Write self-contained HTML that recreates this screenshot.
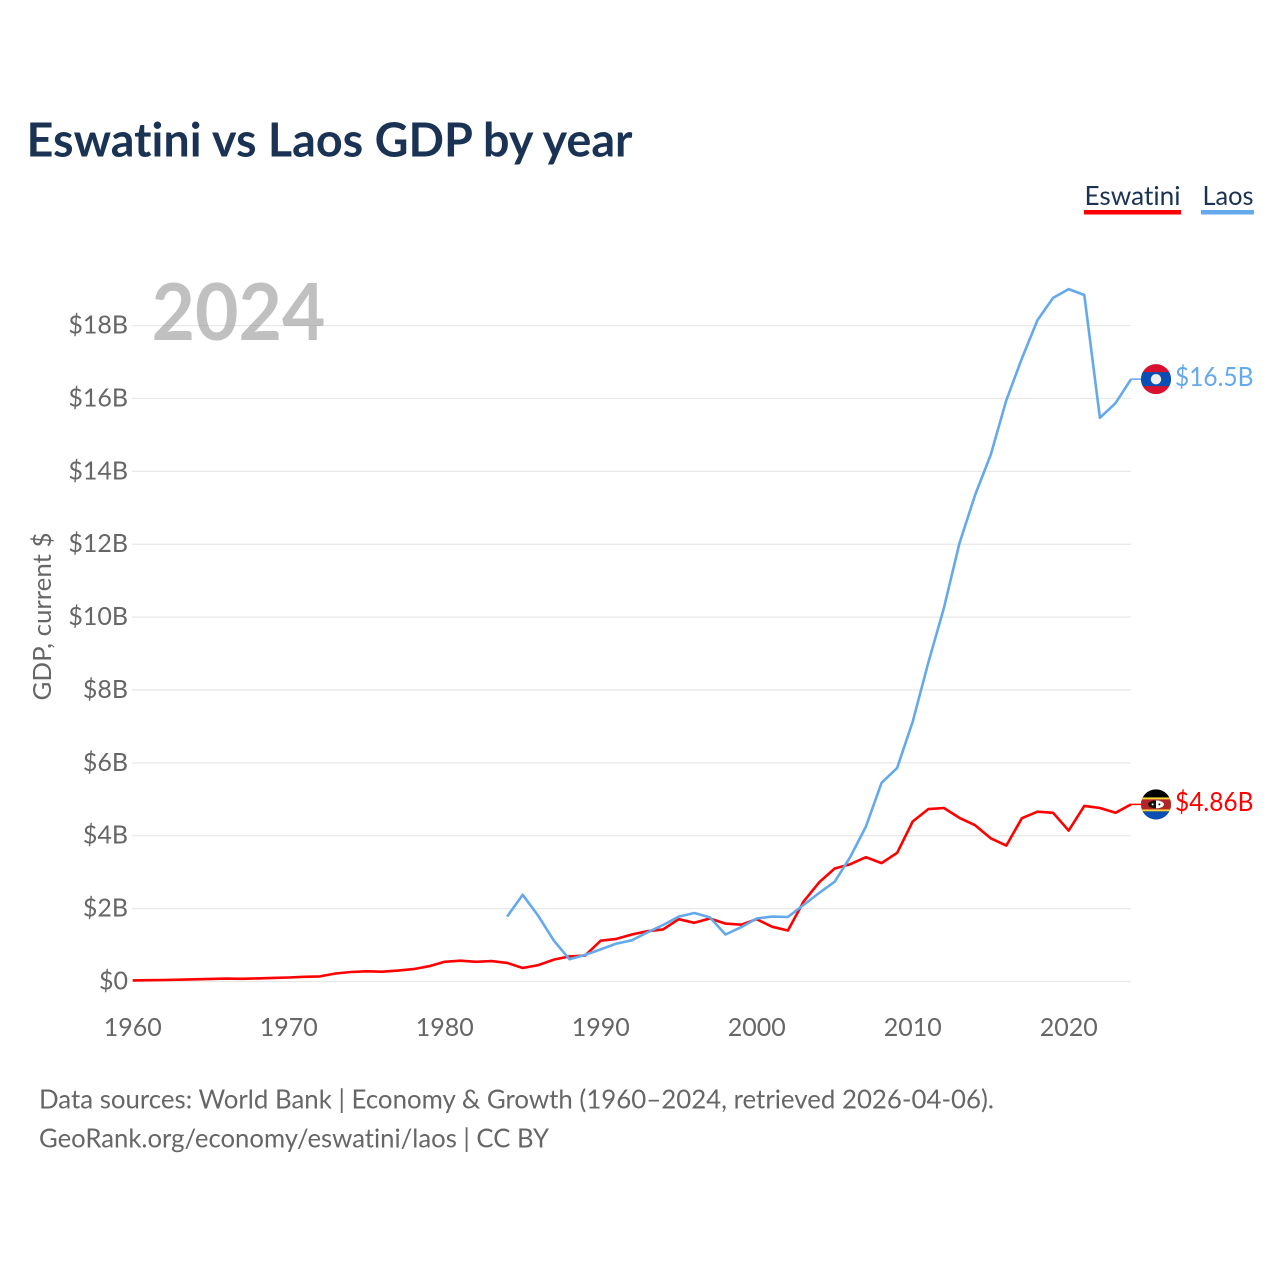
<!DOCTYPE html>
<html lang="en">
<head>
<meta charset="utf-8">
<title>Eswatini vs Laos GDP by year</title>
<style>
  html, body { margin: 0; padding: 0; background: #ffffff; }
  svg { display: block; font-family: "Lato", "Carlito", "Liberation Sans", sans-serif; font-variant-ligatures: none; font-feature-settings: "liga" 0, "clig" 0; }
</style>
</head>
<body>
<svg id="chart" xmlns="http://www.w3.org/2000/svg" width="1280" height="1280" viewBox="0 0 1280 1280">
  <defs>
    <clipPath id="flag-clip"><circle cx="0" cy="0" r="15"></circle></clipPath>
  </defs>
  <rect x="0" y="0" width="1280" height="1280" fill="#ffffff"></rect>
  <text x="26.5" y="156.5" font-size="47" font-weight="700" fill="#1a3354" textLength="606" lengthAdjust="spacingAndGlyphs">Eswatini vs Laos GDP by year</text>

  <g>
    <g>
      <text x="1084.5" y="205" font-size="26.5" fill="#1a3354" textLength="96" lengthAdjust="spacingAndGlyphs">Eswatini</text>
      <rect x="1084" y="210" width="97" height="4.5" fill="#ff0000"></rect>
    </g>
    <g>
      <text x="1202.5" y="205" font-size="26.5" fill="#1a3354" textLength="51" lengthAdjust="spacingAndGlyphs">Laos</text>
      <rect x="1201" y="210" width="53" height="4.5" fill="#63a9ec"></rect>
    </g>
  </g>

  <g id="grid"></g>
  <text x="151.5" y="340" font-size="79" font-weight="700" fill="#969696" fill-opacity="0.6" textLength="174" lengthAdjust="spacingAndGlyphs">2024</text>
  <g id="y-axis"></g>
  <g id="x-axis"></g>
  <text transform="translate(51 616.5) rotate(-90)" text-anchor="middle" font-size="25" fill="#666666" textLength="168" lengthAdjust="spacingAndGlyphs">GDP, current $</text>
  <g id="series"></g>
  <g id="end-markers"></g>

  <g>
    <text x="39" y="1108.7" font-size="26" fill="#666666" textLength="955" lengthAdjust="spacingAndGlyphs">Data sources: World Bank | Economy &amp; Growth (1960–2024, retrieved 2026-04-06).</text>
    <text x="39" y="1147.7" font-size="26" fill="#666666" textLength="510" lengthAdjust="spacingAndGlyphs">GeoRank.org/economy/eswatini/laos | CC BY</text>
  </g>
</svg>

<script>
const years = [1960,1961,1962,1963,1964,1965,1966,1967,1968,1969,1970,1971,1972,1973,1974,1975,1976,1977,1978,1979,1980,1981,1982,1983,1984,1985,1986,1987,1988,1989,1990,1991,1992,1993,1994,1995,1996,1997,1998,1999,2000,2001,2002,2003,2004,2005,2006,2007,2008,2009,2010,2011,2012,2013,2014,2015,2016,2017,2018,2019,2020,2021,2022,2023,2024];
const eswatiniValues = [0.03,0.035,0.04,0.05,0.06,0.07,0.08,0.075,0.085,0.10,0.11,0.13,0.14,0.22,0.26,0.28,0.27,0.30,0.34,0.42,0.54,0.57,0.54,0.56,0.51,0.37,0.45,0.60,0.69,0.71,1.12,1.17,1.29,1.38,1.43,1.71,1.61,1.73,1.59,1.56,1.71,1.50,1.40,2.19,2.72,3.10,3.22,3.41,3.25,3.53,4.39,4.73,4.76,4.49,4.29,3.93,3.73,4.48,4.66,4.63,4.14,4.82,4.76,4.63,4.86];
const laosValues = [null,null,null,null,null,null,null,null,null,null,null,null,null,null,null,null,null,null,null,null,null,null,null,null,1.78,2.38,1.80,1.12,0.61,0.73,0.88,1.04,1.13,1.35,1.55,1.78,1.88,1.76,1.29,1.49,1.73,1.78,1.77,2.10,2.43,2.74,3.42,4.25,5.45,5.86,7.13,8.75,10.25,12.03,13.35,14.45,15.95,17.1,18.15,18.76,19.0,18.84,15.47,15.87,16.53];
const yTickValues = [0,2,4,6,8,10,12,14,16,18];
const yTickLabels = ["$0","$2B","$4B","$6B","$8B","$10B","$12B","$14B","$16B","$18B"];
const xTickValues = [1960,1970,1980,1990,2000,2010,2020];
const xTickLabels = ["1960","1970","1980","1990","2000","2010","2020"];
const eswatiniEndLabel = "$4.86B";
const laosEndLabel = "$16.5B";

const NS = "http://www.w3.org/2000/svg";
const xScale = function (year) { return 132.7 + (year - 1960) * 15.6; };
const yScale = function (value) { return 981.5 - value * 36.44; };

function make(tag, parent, attrs) {
  const el = document.createElementNS(NS, tag);
  for (const key in attrs) { el.setAttribute(key, attrs[key]); }
  parent.appendChild(el);
  return el;
}

const gridGroup = document.getElementById("grid");
const yAxisGroup = document.getElementById("y-axis");
const xAxisGroup = document.getElementById("x-axis");
const seriesGroup = document.getElementById("series");
const markerGroup = document.getElementById("end-markers");

yTickValues.forEach(function (value, i) {
  const line = make("line", gridGroup, { x1: 132, x2: 1131, y1: yScale(value), y2: yScale(value), stroke: "#e8e8e8", "stroke-width": 1.2 });
  
  
  const label = make("text", yAxisGroup, { x: 128, y: yScale(value) + 8, "text-anchor": "end", "font-size": 25, fill: "#666666" });
  
  
  label.textContent = yTickLabels[i];
});

xTickValues.forEach(function (year, i) {
  const label = make("text", xAxisGroup, { x: xScale(year), y: 1036, "text-anchor": "middle", "font-size": 25, fill: "#666666" });
  
  
  label.textContent = xTickLabels[i];
});

function linePoints(values) {
  const pts = [];
  values.forEach(function (v, i) {
    if (v !== null) { pts.push(xScale(years[i]).toFixed(1) + "," + yScale(v).toFixed(1)); }
  });
  return pts.join(" ");
}

const eswatiniLine = make("polyline", seriesGroup, { points: linePoints(eswatiniValues), fill: "none", stroke: "#ff0000", "stroke-width": 2.6, "stroke-linejoin": "round" });



const laosLine = make("polyline", seriesGroup, { points: linePoints(laosValues), fill: "none", stroke: "#63a9ec", "stroke-width": 2.6, "stroke-linejoin": "round" });



const lastIndex = years.length - 1;
const endX = xScale(years[lastIndex]);
const flagX = 1156;

function endLabel(value, color, text) {
  const y = yScale(value);
  const leader = make("line", markerGroup, { x1: endX, x2: flagX - 14, y1: y, y2: y, stroke: color, "stroke-width": 1.5 });
  const label = make("text", markerGroup, { x: 1175, y: y + 6.8, "font-size": 26, fill: color, textLength: 78.5, lengthAdjust: "spacingAndGlyphs" });
  label.textContent = text;
  const flag = make("g", markerGroup, { transform: "translate(" + flagX + " " + y + ")" });
  const inner = make("g", flag, { "clip-path": "url(#flag-clip)" });
  return { leader: leader, label: label, flag: flag, inner: inner };
}

function band(parent, y, h, color) {
  return make("rect", parent, { x: -16, y: y, width: 32, height: h, fill: color });
}

const laosEnd = endLabel(laosValues[lastIndex], "#63a9ec", laosEndLabel);






band(laosEnd.inner, -16, 32, "#d8122e");
band(laosEnd.inner, -7, 14, "#0a50b4");
make("circle", laosEnd.inner, { cx: 0, cy: 0, r: 5.2, fill: "#eeeeee" });

const eswatiniEnd = endLabel(eswatiniValues[lastIndex], "#ff0000", eswatiniEndLabel);






band(eswatiniEnd.inner, -16, 32, "#000000");
band(eswatiniEnd.inner, -7, 14, "#f5d33a");
band(eswatiniEnd.inner, -5, 10, "#b2242a");
band(eswatiniEnd.inner, 7, 9, "#0a50b4");
make("ellipse", eswatiniEnd.inner, { cx: 0, cy: 0, rx: 8, ry: 4, fill: "#111111" });
make("path", eswatiniEnd.inner, { d: "M0 -4 A8 4 0 0 1 0 4 Z", fill: "#ffffff" });
make("circle", eswatiniEnd.inner, { cx: -3.4, cy: 0, r: 1, fill: "#ffffff" });
make("circle", eswatiniEnd.inner, { cx: 3.4, cy: 0, r: 1, fill: "#111111" });
</script>
</body>
</html>
